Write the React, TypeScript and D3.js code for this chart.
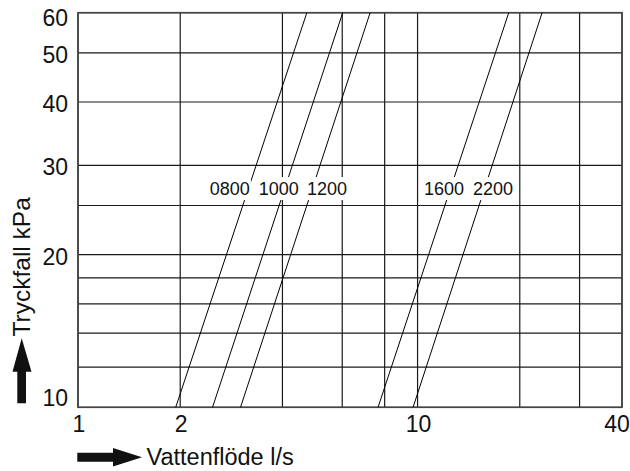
import * as d3 from 'd3';
import React, { useEffect, useRef } from 'react';

const models = ['0800', '1000', '1200', '1600', '2200'];
const flowAt10 = [1.94, 2.49, 3.01, 7.65, 9.7];
const flowAt60 = [4.72, 6.02, 7.25, 18.56, 23.27];
const labelFlow = [2.8, 3.9, 5.41, 11.97, 16.69];
const labelPressure = 27;

const xGrid = [1, 2, 4, 6, 8, 10, 20, 30, 40];
const yGrid = [10, 12, 14, 16, 18, 20, 25, 30, 40, 50, 60];
const xTickLabels = [1, 2, 10, 40];
const yTickLabels = [10, 20, 30, 40, 50, 60];

const W = 630;
const H = 471;
const FONT = "Arial, 'Liberation Sans', Helvetica, sans-serif";

const Chart = () => {
  const ref = useRef<any>(null);

  useEffect(() => {
    const svg = d3.select(ref.current);
    svg.selectAll('*').remove();

    const x = d3.scaleLog().domain([1, 40]).range([78, 622]);
    const y = d3.scaleLog().domain([10, 60]).range([407.3, 12.7]);

    const grid = svg.append('g').attr('stroke', '#1a1a1a').attr('stroke-width', 1.2);
    grid
      .selectAll('line.v')
      .data(xGrid)
      .join('line')
      .attr('class', 'v')
      .attr('x1', (d) => x(d))
      .attr('x2', (d) => x(d))
      .attr('y1', y(60))
      .attr('y2', y(10));
    grid
      .selectAll('line.h')
      .data(yGrid)
      .join('line')
      .attr('class', 'h')
      .attr('x1', x(1))
      .attr('x2', x(40))
      .attr('y1', (d) => y(d))
      .attr('y2', (d) => y(d));

    // frame
    svg
      .append('rect')
      .attr('x', x(1))
      .attr('y', y(60))
      .attr('width', x(40) - x(1))
      .attr('height', y(10) - y(60))
      .attr('fill', 'none')
      .attr('stroke', '#444')
      .attr('stroke-width', 1.6);

    const line = d3
      .line<[number, number]>()
      .x((d) => x(d[0]))
      .y((d) => y(d[1]));

    svg
      .append('g')
      .selectAll('path')
      .data(models.map((_, i) => [[flowAt10[i], 10], [flowAt60[i], 60]] as [number, number][]))
      .join('path')
      .attr('d', (d) => line(d))
      .attr('fill', 'none')
      .attr('stroke', '#000')
      .attr('stroke-width', 1);

    // curve labels with white boxes that cut the lines
    const labels = svg.append('g');
    models.forEach((m, i) => {
      const cx = x(labelFlow[i]);
      const cy = y(labelPressure);
      const g = labels.append('g');
      const rect = g.append('rect').attr('fill', '#fff');
      const t = g
        .append('text')
        .attr('x', cx)
        .attr('y', cy + 6.5)
        .attr('text-anchor', 'middle')
        .attr('font-family', FONT)
        .attr('font-size', 18)
        .attr('fill', '#111')
        .text(m);
      const bb = (t.node() as any).getBBox();
      rect
        .attr('x', bb.x - 1)
        .attr('y', cy - 11.5)
        .attr('width', bb.width + 2)
        .attr('height', 23);
    });

    // y tick labels
    svg
      .append('g')
      .selectAll('text')
      .data(yTickLabels)
      .join('text')
      .attr('x', 68)
      .attr('y', (d) => Math.min(Math.max(y(d) + 2, 17.7), 398))
      .attr('dy', '0.35em')
      .attr('text-anchor', 'end')
      .attr('font-family', FONT)
      .attr('font-size', 23)
      .attr('fill', '#111')
      .text((d) => d);

    // x tick labels
    svg
      .append('g')
      .selectAll('text')
      .data(xTickLabels)
      .join('text')
      .attr('x', (d) => Math.min(x(d) + 1, W - 13))
      .attr('y', 432)
      .attr('text-anchor', 'middle')
      .attr('font-family', FONT)
      .attr('font-size', 23)
      .attr('fill', '#111')
      .text((d) => d);

    // y axis title + arrow
    svg
      .append('text')
      .attr('transform', 'translate(30,336.5) rotate(-90)')
      .attr('font-family', FONT)
      .attr('font-size', 24.5)
      .attr('fill', '#111')
      .text('Tryckfall kPa');
    svg
      .append('path')
      .attr('d', 'M17.3,403.3 L26,403.3 L26,371.7 L31.5,371.7 L21.7,338.3 L12.5,371.7 L17.3,371.7 Z')
      .attr('fill', '#111');

    // x axis title + arrow
    svg
      .append('path')
      .attr('d', 'M77.3,452.7 L113,452.7 L113,448 L142,457.2 L113,466.4 L113,461.7 L77.3,461.7 Z')
      .attr('fill', '#111');
    svg
      .append('text')
      .attr('x', 146.5)
      .attr('y', 465)
      .attr('font-family', FONT)
      .attr('font-size', 23.5)
      .attr('fill', '#111')
      .text('Vattenflöde l/s');
  }, []);

  return <svg ref={ref} width={W} height={H} style={{ display: 'block' }} />;
};

export default function App() {
  return (
    <div style={{ position: 'absolute', left: 0, top: 0, background: '#fff' }}>
      <Chart />
    </div>
  );
}
